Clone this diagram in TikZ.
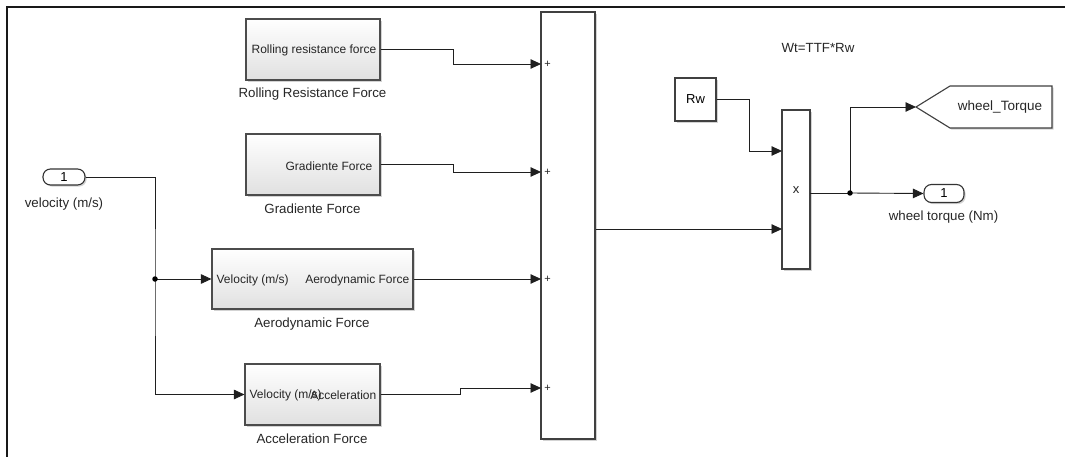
\documentclass[tikz,border=0pt]{standalone}
\usepackage{fontspec}
\setmainfont{Liberation Sans}
\usetikzlibrary{arrows.meta,shadows,calc}
\tikzset{
  shd/.style={drop shadow={shadow xshift=1.6pt,shadow yshift=-1.6pt,opacity=0.35}},
  blk/.style={draw=black!70, line width=1.1pt, top color=white, bottom color=gray!24, shd, inner sep=0pt},
  plainblk/.style={draw=black!75, line width=1.1pt, fill=white, shd, inner sep=0pt},
  portblk/.style={draw=black!80, line width=1.1pt, fill=white, rounded corners=7.5pt, shd, inner sep=0pt, minimum width=42pt, font=\fontsize{13}{15}\selectfont},
  wire/.style={line width=0.9pt, draw=black!88},
  arr/.style={wire, -{Triangle[length=10.5pt,width=9.5pt]}},
  lbl/.style={font=\fontsize{13.3}{15}\selectfont, text=black!85, inner sep=0pt},
  intxt/.style={font=\fontsize{12}{14}\selectfont, text=black!85, inner sep=0pt},
  plus/.style={font=\fontsize{11}{12}\selectfont, text=black!85, inner sep=0pt},
  dot/.style={circle, fill=black, inner sep=0pt, minimum size=5.5pt}
}
\begin{document}
\begin{tikzpicture}[x=1pt,y=-1pt]
\useasboundingbox (0,0) rectangle (1065,457);
% frame
\draw[line width=1.6pt, black!90] (6.7,457) -- (6.7,7.3) -- (1065,7.3);

% blocks
\node[blk, minimum width=134pt, minimum height=61pt] (roll) at (313,49.5) {};
\node[blk, minimum width=134pt, minimum height=61pt] (grad) at (313,164.5) {};
\node[blk, minimum width=201pt, minimum height=60pt] (aero) at (312.5,279) {};
\node[blk, minimum width=135pt, minimum height=61pt] (acc) at (312.5,394.5) {};
\node[plainblk, minimum width=54pt, minimum height=427pt] (sum) at (568,225.5) {};
\node[plainblk, minimum width=28pt, minimum height=159pt] (prod) at (796,189.5) {};
\node[plainblk, minimum width=41pt, minimum height=43pt, font=\fontsize{13}{15}\selectfont] (rw) at (695.5,99.5) {Rw};
\node[portblk, minimum height=16pt] (vin) at (64,177) {1};
\node[portblk, minimum height=18pt, minimum width=40pt] (vout) at (944,193.5) {1};

% inner texts
\node[intxt, anchor=east] (rolltxt) at ($(roll.east)+(-4,1)$) {Rolling resistance force};
\node[intxt, anchor=east] (gradtxt) at ($(grad.east)+(-8,1.5)$) {Gradiente Force};
\node[intxt, anchor=west] (aerotxtin) at ($(aero.west)+(5,1)$) {Velocity (m/s)};
\node[intxt, anchor=east] (aerotxtout) at ($(aero.east)+(-4,1)$) {Aerodynamic Force};
\node[intxt, anchor=west] (acctxtin) at ($(acc.west)+(5,1)$) {Velocity (m/s)};
\node[intxt, anchor=east] (acctxtout) at ($(acc.east)+(-4,1)$) {Acceleration};
\node[intxt, font=\fontsize{13}{15}\selectfont] (xtxt) at (796,190) {x};

% labels
\node[lbl] (rolllbl) at (312.5,94) {Rolling Resistance Force};
\node[lbl] (gradlbl) at (312.5,209) {Gradiente Force};
\node[lbl] (aerolbl) at (312,324) {Aerodynamic Force};
\node[lbl] (acclbl) at (312,439) {Acceleration Force};
\node[lbl] (vinlbl) at (64,204) {velocity (m/s)};
\node[lbl] (voutlbl) at (943.5,217) {wheel torque (Nm)};
\node[lbl] (eqn) at (818,48) {Wt=TTF*Rw};

% goto block
\coordinate (gtip) at (916,107);
\path[draw=black!75, line width=1.1pt, fill=white, shd] (gtip) -- (950,86) -- (1052,86) -- (1052,128) -- (950,128) -- cycle;
\node[lbl, font=\fontsize{13.5}{15}\selectfont] (gototxt) at (1000,107) {wheel\_Torque};

% sum inputs
\coordinate (s1) at (541,64);
\coordinate (s2) at (541,172);
\coordinate (s3) at (541,279);
\coordinate (s4) at (541,388);
\foreach \s in {s1,s2,s3,s4}{\node[plus] at ($(\s)+(6.5,0.5)$) {+};}

% wires into sum
\draw[arr] (roll.east) -- (453,49.5) |- (s1);
\draw[arr] (grad.east) -- (453,164.5) |- (s2);
\draw[arr] (aero.east) -- (s3);
\draw[arr] (acc.east) -- (460,394.5) |- (s4);

% velocity distribution
\coordinate (j1) at (155,279);
\draw[arr] (vin.east) -| (j1) |- (acc.west);
\draw[arr] (j1) -- (aero.west);
\node[dot] (j1dot) at (j1) {};

% product
\coordinate (p1) at (782,151);
\coordinate (p2) at (782,229);
\draw[arr] (sum.east |- p2) -- (p2);
\draw[arr] (rw.east) -- (749,99.5) |- (p1);
\coordinate (po) at (810,193);
\coordinate (j2) at (850,193);
\draw[wire] (po) -- (j2);
\draw[arr] (j2) -- (vout.west);
\draw[arr] (j2) |- (gtip);
\node[dot] (j2dot) at (j2) {};
\end{tikzpicture}
\end{document}
